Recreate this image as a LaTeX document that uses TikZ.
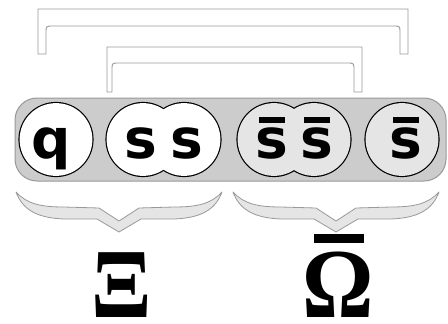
\documentclass[tikz,border=0pt]{standalone}
\usepackage{fontspec}
\usepackage{tikz}
\newfontfamily\quarkfont{DejaVu Sans}
\newfontfamily\barionfont[FakeStretch=0.9]{Liberation Serif}
\definecolor{grigio}{gray}{0.6}
\definecolor{barra}{gray}{0.8}
\definecolor{chiaro}{gray}{0.9}
\newcommand{\antis}{\ooalign{s\cr\hidewidth\rule[35pt]{26pt}{6pt}\hidewidth\cr}}
\newcommand{\antiomega}{\ooalign{Ω\cr\hidewidth\rule[74pt]{50pt}{9pt}\hidewidth\cr}}

\begin{document}
\begin{tikzpicture}[x=1pt, y=-1pt,
    lettera/.style={anchor=base, inner sep=0pt, font=\quarkfont\bfseries\fontsize{55}{60}\selectfont},
    barione/.style={anchor=base, inner sep=0pt, font=\barionfont\bfseries\fontsize{99}{104}\selectfont},
    ponte/.style={draw=grigio, line width=0.9pt, fill=white},
    graffa/.style={draw=grigio, line width=0.8pt, fill=chiaro, line join=round}]
  \useasboundingbox (0,0) rectangle (448,324);
  % Ponti
  \draw[ponte] (38,54) -- (38,9) -- (408,9) -- (408,54) -- (400,54) -- (400,33)
    .. controls (400,26) .. (393,26) -- (53,26) .. controls (46,26) .. (46,33) -- (46,54) -- cycle;
  \draw[ponte] (107,92) -- (107,47) -- (362,47) -- (362,92) -- (354,92) -- (354,70)
    .. controls (354,63) .. (347,63) -- (119,63) .. controls (112,63) .. (112,70) -- (112,92) -- cycle;
  % Barra
  \draw[fill=barra, draw=grigio, line width=1pt, rounded corners=22pt] (15,98) rectangle (446,181);
  % Cerchi
  \foreach \x in {56, 143, 184, 274, 314, 402}
    \fill[black] (\x,139.5) circle (37.6);
  \foreach \x/\col in {56/white, 143/white, 184/white, 274/chiaro, 314/chiaro, 402/chiaro}
    \fill[\col] (\x,139.5) circle (36.4);
  % Quark
  \node[lettera] (q) at (51,158) {q};
  \node[lettera] (s1) at (141,158) {s};
  \node[lettera] (s2) at (186.5,158) {s};
  \node[lettera] (sb1) at (272,158) {\antis};
  \node[lettera] (sb2) at (316.5,158) {\antis};
  \node[lettera] (sb3) at (406,158) {\antis};
  % Graffe
  \foreach \c in {119, 336} {
    \draw[graffa] ({\c-103},192) .. controls ({\c-92},204) and ({\c-78},207) .. ({\c-55},207)
      -- ({\c-20},208) -- (\c,221) -- ({\c+20},208) -- ({\c+55},207)
      .. controls ({\c+78},207) and ({\c+92},204) .. ({\c+103},192)
      .. controls ({\c+96},211) and ({\c+80},218) .. ({\c+55},219) -- ({\c+22},219) -- (\c,232)
      -- ({\c-22},219) -- ({\c-55},219) .. controls ({\c-80},218) and ({\c-96},211) .. ({\c-103},192) -- cycle;
  }
  % Barioni
  \node[barione] (xi) at (121.5,317) {Ξ};
  \node[barione] (omb) at (338.5,317) {\antiomega};
\end{tikzpicture}
\end{document}
